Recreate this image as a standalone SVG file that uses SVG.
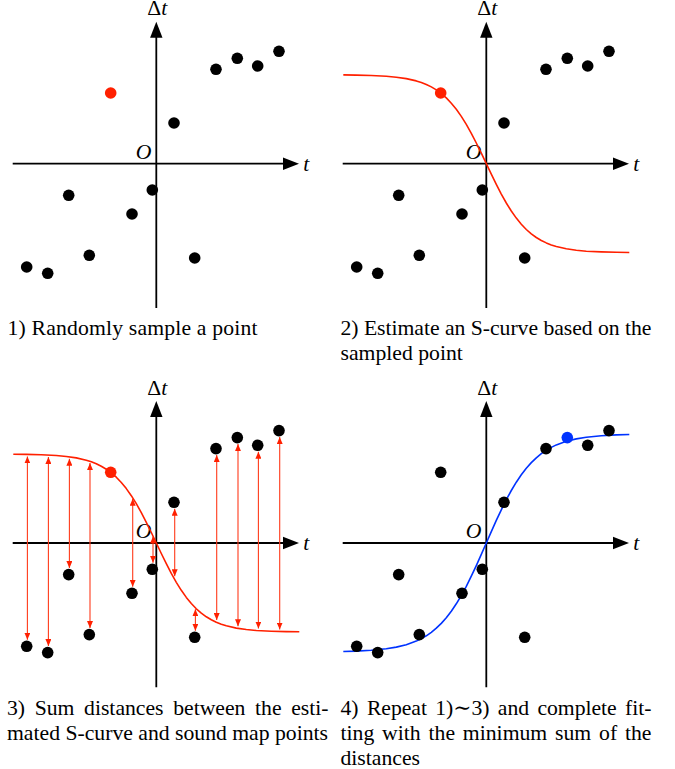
<svg xmlns="http://www.w3.org/2000/svg" xmlns:xlink="http://www.w3.org/1999/xlink" width="675" height="769" viewBox="0 0 675 769">
<style>
.ax{stroke:#000;stroke-width:1.8;fill:none}
.ah{fill:#000}
.pt{fill:#000}
.rd{fill:#ff2000}
.bl{fill:#0033ff}
.rc{stroke:#ff2000;stroke-width:1.6;fill:none}
.bc{stroke:#0033ff;stroke-width:1.6;fill:none}
.ar{stroke:#ff3a1a;stroke-width:1.1;fill:none;marker-start:url(#ra);marker-end:url(#ra)}
.tx{font-family:"Liberation Serif","Times New Roman","DejaVu Serif",serif;font-size:21.7px;fill:#000}
.it{font-style:italic}
</style>
<defs>
<marker id="ra" viewBox="0 0 7 6" refX="7" refY="3" markerWidth="7" markerHeight="6" markerUnits="userSpaceOnUse" orient="auto-start-reverse">
<path d="M0,0 L7,3 L0,6 z" fill="#ff2000"/>
</marker>
<g id="axes">
<line class="ax" x1="-143.6" y1="0" x2="128" y2="0"/>
<line class="ax" x1="0" y1="144.3" x2="0" y2="-128"/>
<path class="ah" d="M142.7,0 L126.7,-6.2 L126.7,6.2 z"/>
<path class="ah" d="M0,-142 L-6.2,-126 L6.2,-126 z"/>
<text class="tx" x="1" y="-148.5" text-anchor="middle">Δ<tspan class="it">t</tspan></text>
<text class="tx it" x="147" y="7">t</text>
<text class="tx it" x="-5" y="-4.7" text-anchor="end">O</text>
</g>
<path id="rcurve" class="rc" d="M-143,-88.8 L-130,-88.6 L-115,-88.2 L-100,-87.5 L-90,-86.5 L-80,-85.1 L-70,-82.8 L-65,-81.2 L-60,-79.2 L-55,-76.8 L-50,-73.8 L-45,-70.1 L-40,-65.8 L-35,-60.5 L-30,-54.4 L-25,-47.3 L-20,-39.3 L-15,-30.4 L-10,-20.7 L-5,-10.5 L0,0 L5,10.5 L10,20.7 L15,30.4 L20,39.3 L25,47.3 L30,54.4 L35,60.5 L40,65.8 L45,70.1 L50,73.8 L55,76.8 L60,79.2 L65,81.2 L70,82.8 L80,85.1 L90,86.5 L100,87.5 L115,88.2 L130,88.6 L143,88.8" stroke-linejoin="round"/>
<g id="blackpts">
<circle class="pt" cx="17.7" cy="-40.7" r="5.8"/>
<circle class="pt" cx="59.7" cy="-94.4" r="5.8"/>
<circle class="pt" cx="101.4" cy="-97.7" r="5.8"/>
<circle class="pt" cx="122.7" cy="-112.4" r="5.8"/>
<circle class="pt" cx="-87.6" cy="31.6" r="5.8"/>
<circle class="pt" cx="-4" cy="26.3" r="5.8"/>
<circle class="pt" cx="-24.3" cy="50.3" r="5.8"/>
<circle class="pt" cx="-67" cy="91.6" r="5.8"/>
<circle class="pt" cx="-129.6" cy="103.3" r="5.8"/>
<circle class="pt" cx="-108.6" cy="109.6" r="5.8"/>
<circle class="pt" cx="38.4" cy="94.3" r="5.8"/>
</g>
</defs>

<g id="panel1" transform="translate(156.3,163.7)">
<use xlink:href="#axes"/>
<use xlink:href="#blackpts"/>
<circle class="pt" cx="81" cy="-105.4" r="5.8"/>
<circle class="rd" cx="-45.6" cy="-70.7" r="5.8"/>
</g>

<g id="panel2" transform="translate(486.3,163.7)">
<use xlink:href="#axes"/>
<use xlink:href="#rcurve"/>
<use xlink:href="#blackpts"/>
<circle class="pt" cx="81" cy="-105.4" r="5.8"/>
<circle class="rd" cx="-45.6" cy="-70.7" r="5.8"/>
</g>

<g id="panel3" transform="translate(156.3,543)">
<use xlink:href="#axes"/>
<use xlink:href="#rcurve"/>
<g id="connectors">
<line class="ar" x1="-128.9" y1="-86.6" x2="-128.9" y2="96.8"/>
<line class="ar" x1="-107.9" y1="-86" x2="-107.9" y2="103.1"/>
<line class="ar" x1="-86.9" y1="-84.2" x2="-86.9" y2="25.1"/>
<line class="ar" x1="-66.3" y1="-79.9" x2="-66.3" y2="85.1"/>
<line class="ar" x1="-23.6" y1="-44.3" x2="-23.6" y2="43.8"/>
<line class="ar" x1="-3.3" y1="-6.4" x2="-3.3" y2="19.8"/>
<line class="ar" x1="18.4" y1="33.3" x2="18.4" y2="-34.2"/>
<line class="ar" x1="39.1" y1="66.2" x2="39.1" y2="87.8"/>
<line class="ar" x1="60.4" y1="77.1" x2="60.4" y2="-87.9"/>
<line class="ar" x1="81.7" y1="83.3" x2="81.7" y2="-98.9"/>
<line class="ar" x1="102.1" y1="85.6" x2="102.1" y2="-91.2"/>
<line class="ar" x1="123.4" y1="86.5" x2="123.4" y2="-105.9"/>
</g>
<use xlink:href="#blackpts"/>
<circle class="pt" cx="81" cy="-105.4" r="5.8"/>
<circle class="rd" cx="-45.6" cy="-70.7" r="5.8"/>
</g>

<g id="panel4" transform="translate(486.3,543)">
<use xlink:href="#axes"/>
<path class="bc" stroke-linejoin="round" d="M-143,108.5 L-130,108.1 L-115,107.3 L-100,105.8 L-90,104.1 L-80,101.7 L-70,98.1 L-65,95.6 L-60,92.8 L-55,89.3 L-50,85.2 L-45,80.4 L-40,74.8 L-35,68.2 L-30,60.8 L-25,52.5 L-20,43.3 L-15,33.2 L-10,22.6 L-5,11.4 L0,0 L5,-11.4 L10,-22.6 L15,-33.2 L20,-43.3 L25,-52.5 L30,-60.8 L35,-68.2 L40,-74.8 L45,-80.4 L50,-85.2 L55,-89.3 L60,-92.8 L65,-95.6 L70,-98.1 L80,-101.7 L90,-104.1 L100,-105.8 L115,-107.3 L130,-108.1 L143,-108.5"/>
<use xlink:href="#blackpts"/>
<circle class="pt" cx="-45.6" cy="-70.7" r="5.8"/>
<circle class="bl" cx="81" cy="-105.4" r="5.8"/>
</g>

<g id="captions">
<text class="tx" x="7.5" y="334.5" textLength="250" lengthAdjust="spacing">1) Randomly sample a point</text>
<text class="tx" x="340.5" y="334.5" textLength="311" lengthAdjust="spacing">2) Estimate an S-curve based on the</text>
<text class="tx" x="340.5" y="360">sampled point</text>
<text class="tx" x="7" y="714.5" word-spacing="4.2" textLength="321.5" lengthAdjust="spacing">3) Sum distances between the esti-</text>
<text class="tx" x="7" y="740">mated S-curve and sound map points</text>
<text class="tx" x="340.5" y="714.5" word-spacing="3" textLength="311" lengthAdjust="spacing">4) Repeat 1)∼3) and complete fit-</text>
<text class="tx" x="340.5" y="740" word-spacing="2.4" textLength="311" lengthAdjust="spacing">ting with the minimum sum of the</text>
<text class="tx" x="340.5" y="764.5">distances</text>
</g>
</svg>
